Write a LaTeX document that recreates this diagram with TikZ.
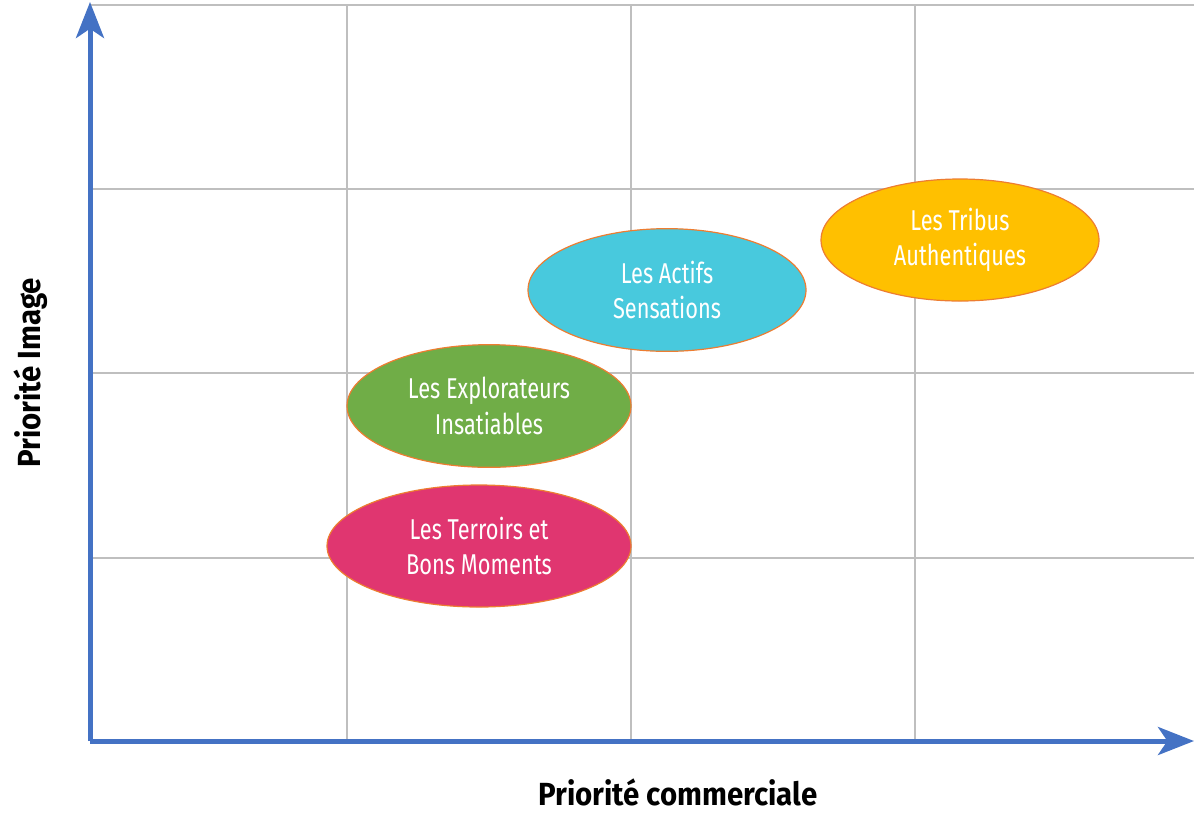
\documentclass[tikz,border=0pt]{standalone}
\usepackage{fontspec}
\usepackage{xcolor}
\usetikzlibrary{arrows.meta,shapes.geometric,positioning}

\newfontfamily\blobfont{Fira Sans}[FakeStretch=0.76]
\newfontfamily\axisfont{Fira Sans}[FakeStretch=0.92]

\definecolor{axisblue}{HTML}{4472C4}
\definecolor{gridgray}{HTML}{BFBFBF}
\definecolor{rimorange}{HTML}{ED7D31}
\definecolor{tribusyellow}{HTML}{FFC000}
\definecolor{actifscyan}{HTML}{48C9DD}
\definecolor{explogreen}{HTML}{70AD47}
\definecolor{terroirpink}{HTML}{E03670}

\begin{document}
\begin{tikzpicture}[x=0.75pt, y=-0.75pt,
  gridline/.style = {draw=gridgray, line width=1.5pt},
  axis/.style = {draw=axisblue, line width=3.75pt,
    -{Stealth[length=27pt, width=21pt, inset=7pt]}},
  blob/.style = {ellipse, draw=rimorange, line width=0.9pt, inner sep=0pt,
    text=white, align=center,
    font=\blobfont\fontsize{21.5pt}{26.5pt}\selectfont},
  axislabel/.style = {inner sep=0pt,
    font=\axisfont\bfseries\fontsize{24pt}{28pt}\selectfont}]
\useasboundingbox (0,0) rectangle (1194,815);

% grid
\foreach \y in {5,189,373,558}
  \draw[gridline] (90,\y) -- (1194,\y);
\foreach \x in {347,631,915}
  \draw[gridline] (\x,5) -- (\x,741);

% axes
\coordinate (origin) at (90,741);
\coordinate (ytop) at (90,2);
\coordinate (xend) at (1194,741);
\draw[axis] (origin) -- (ytop);
\draw[axis] (origin) -- (xend);

\node[axislabel] (xlabel) at (678,792) {Priorité commerciale};
\node[axislabel, rotate=90] (ylabel) at (31,373) {Priorité Image};

% segments
\node[blob, fill=terroirpink, minimum width=228pt, minimum height=91.5pt]
  (terroirs) at (479,546) {Les Terroirs et\\Bons Moments};
\node[blob, fill=explogreen, minimum width=213pt, minimum height=92pt]
  (explorateurs) at (489,406) {Les Explorateurs\\Insatiables};
\node[blob, fill=actifscyan, minimum width=208.5pt, minimum height=92pt]
  (actifs) at (667,290) {Les Actifs\\Sensations};
\node[blob, fill=tribusyellow, minimum width=208.5pt, minimum height=91.5pt]
  (tribus) at (960,240) {Les Tribus\\Authentiques};
\end{tikzpicture}
\end{document}
